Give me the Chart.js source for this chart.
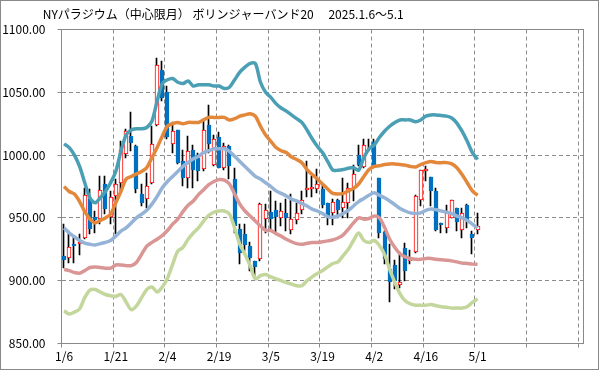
<!DOCTYPE html>
<html>
<head>
<meta charset="utf-8">
<script src="https://cdn.jsdelivr.net/npm/chart.js@4.4.1/dist/chart.umd.min.js"></script>
<style>
  html, body { margin: 0; padding: 0; background: #fff; }
  #box { position: absolute; left: 0; top: 0; width: 597px; height: 368px; border: 1px solid #898989; }
</style>
</head>
<body>
<div id="box"><canvas id="chart"></canvas></div>
<script>
const TITLE = 'NYパラジウム（中心限月） ボリンジャーバンド20　 2025.1.6～5.1';

const dates = [
  '1/6','1/7','1/8','1/9','1/10','1/13','1/14','1/15','1/16','1/17',
  '1/21','1/22','1/23','1/24','1/27','1/28','1/29','1/30','1/31','2/3',
  '2/4','2/5','2/6','2/7','2/10','2/11','2/12','2/13','2/14','2/18',
  '2/19','2/20','2/21','2/24','2/25','2/26','2/27','2/28','3/3','3/4',
  '3/5','3/6','3/7','3/10','3/11','3/12','3/13','3/14','3/17','3/18',
  '3/19','3/20','3/21','3/24','3/25','3/26','3/27','3/28','3/31','4/1',
  '4/2','4/3','4/4','4/7','4/8','4/9','4/10','4/11','4/14','4/15',
  '4/16','4/17','4/21','4/22','4/23','4/24','4/25','4/28','4/29','4/30',
  '5/1'
];

const open = [
  919.8, 918.4, 929.0, 929.0, 934.3, 965.3, 951.0, 949.4, 976.7, 951.0,
  967.4, 978.0, 1000.5, 1015.5, 1007.0, 969.0, 964.7, 977.5, 1024.3, 1067.4,
  1050.0, 1009.2, 1019.8, 995.2, 982.0, 1004.4, 997.8, 988.6, 1024.3, 992.5,
  1014.2, 989.9, 1007.6, 980.6, 941.5, 937.5, 927.7, 915.3, 917.1, 949.4,
  954.7, 956.0, 949.7, 953.6, 940.1, 948.1, 956.0, 971.9, 972.7, 972.7,
  973.2, 961.6, 954.2, 964.0, 957.6, 962.1, 974.0, 999.7, 990.7, 1007.0,
  1010.3, 982.0, 938.8, 909.7, 912.4, 896.5, 926.4, 915.3, 923.0, 964.0,
  987.2, 982.5, 971.4, 946.0, 942.3, 950.2, 958.1, 940.1, 960.3, 937.5,
  940.1
];
const high = [
  944.9, 939.6, 935.6, 937.5, 974.0, 973.2, 955.5, 983.3, 983.3, 971.4,
  980.6, 1011.0, 1021.0, 1034.6, 1008.0, 977.0, 986.0, 1023.0, 1077.7, 1074.6,
  1055.0, 1026.0, 1020.0, 1004.4, 1015.6, 1008.4, 1001.8, 1027.5, 1040.0, 1016.3,
  1018.2, 1009.7, 1008.0, 989.9, 945.4, 944.9, 930.9, 916.0, 962.0, 960.8,
  971.4, 963.4, 962.1, 964.7, 968.7, 962.1, 971.4, 995.7, 983.3, 988.6,
  976.7, 962.1, 964.7, 964.7, 982.0, 978.0, 992.5, 1008.4, 1012.9, 1012.9,
  1013.0, 982.0, 939.6, 929.0, 916.3, 923.0, 930.4, 924.3, 968.0, 988.0,
  991.2, 982.5, 974.0, 946.0, 960.0, 964.2, 958.1, 958.1, 961.3, 939.6,
  954.2
];
const low = [
  910.5, 914.0, 914.0, 920.6, 933.0, 937.0, 938.3, 945.0, 952.9, 945.0,
  937.0, 971.4, 998.0, 1003.0, 970.0, 959.5, 958.0, 977.0, 1023.0, 1042.8,
  1013.0, 1001.3, 993.0, 975.3, 974.0, 974.0, 979.3, 987.0, 1001.8, 991.2,
  989.4, 987.8, 980.6, 938.3, 913.2, 923.7, 907.9, 903.9, 915.8, 938.3,
  941.0, 938.3, 943.6, 939.6, 937.0, 944.9, 952.8, 966.9, 966.9, 970.0,
  958.1, 944.4, 944.4, 950.2, 950.2, 950.2, 963.4, 991.2, 989.9, 1003.0,
  990.0, 934.3, 913.2, 882.7, 893.3, 894.0, 900.0, 913.2, 922.4, 959.5,
  979.3, 959.5, 939.6, 938.3, 938.3, 950.2, 939.6, 934.3, 942.3, 921.6,
  937.0
];
const close = [
  916.3, 927.2, 927.5, 930.9, 967.9, 940.9, 948.0, 972.0, 956.8, 966.9,
  976.7, 1004.4, 1019.0, 1009.3, 972.7, 962.0, 975.3, 1009.0, 1071.9, 1045.5,
  1014.5, 1019.0, 993.9, 982.0, 1003.0, 988.0, 987.2, 1019.8, 1009.0, 1012.9,
  989.9, 1007.6, 991.2, 943.6, 922.4, 928.5, 918.4, 911.0, 960.8, 956.0,
  948.9, 951.0, 955.5, 949.7, 948.9, 953.6, 964.2, 974.0, 974.6, 976.7,
  960.0, 949.7, 962.6, 956.3, 962.6, 974.0, 984.6, 992.5, 1008.4, 1007.6,
  992.5, 938.3, 917.1, 898.6, 900.0, 898.6, 907.9, 916.6, 967.4, 988.0,
  989.0, 971.4, 940.4, 944.6, 953.6, 964.0, 947.0, 953.6, 947.6, 934.3,
  943.6
];

// ボリンジャーバンド (+2σ, +1σ, 中心, -1σ, -2σ)
const upper2 = [
  1009, 1006, 1000, 991, 978, 966, 962, 966, 971, 978,
  987, 1003, 1016, 1020, 1021, 1021, 1022, 1027, 1043, 1057,
  1060, 1061, 1058, 1057, 1059, 1055, 1056, 1056, 1056, 1055,
  1055, 1053, 1054, 1060, 1066, 1070, 1073, 1073, 1058, 1050,
  1046, 1041, 1037.5, 1035, 1032, 1029, 1026, 1020, 1013, 1007,
  1002, 995, 988, 988, 988.5, 989.5, 990, 988, 998, 1005,
  1008, 1014, 1019, 1023, 1026, 1028, 1028, 1028, 1026.5, 1028,
  1031, 1032, 1032, 1031.5, 1031, 1029.5, 1025.5, 1019, 1011, 1002,
  996.5
];
const upper1 = [
  975, 971, 969, 963, 955, 949, 946, 948, 950, 953,
  962, 971, 981, 983, 985, 987, 990, 998, 1006, 1015,
  1023, 1025, 1026, 1025, 1026, 1026, 1026, 1028, 1030, 1030,
  1030, 1030, 1028, 1029, 1031, 1032, 1033, 1031, 1023, 1016,
  1011, 1006, 1003.5, 1002, 998.5, 996.5, 994, 988.5, 984.5, 981,
  977, 973, 969.5, 969, 969.5, 971.5, 973.5, 977, 983, 988.5,
  991, 991.5, 992.5, 993, 993, 992.5, 992, 991, 990.5, 992.5,
  994, 995, 994, 994, 994, 993, 990, 984.5, 978, 971.5,
  968
];
const middle = [
  942, 938, 935, 932, 930, 929, 928.5, 929.5, 930.5, 932,
  935.5, 939.5, 942, 946, 950, 953, 956, 961, 967, 974,
  979, 983, 987, 991, 994, 997, 999, 1002, 1003.5, 1005,
  1005, 1005, 1003, 999, 995, 991, 987, 983, 981, 978,
  975, 971.5, 969.5, 967.5, 965, 963.5, 961.5, 959.5, 957, 955.5,
  953.5, 951, 950.5, 951.5, 953.5, 956, 959.5, 963, 965.5, 968,
  970, 968, 966, 963.5, 960.5, 957.5, 955.5, 954, 953.5, 954,
  956, 957, 956.5, 955.5, 954.5, 953.5, 951.5, 950, 948, 945,
  942
];
const lower1 = [
  909, 908, 906.5, 906, 908, 910.5, 911, 910.5, 910, 910,
  912.5, 912.5, 912, 912, 914.5, 921, 927.5, 930.5, 933, 936,
  940, 945, 949, 955, 960, 963.5, 968.5, 972.5, 976.5, 979,
  980.5, 980, 977, 969, 961, 955.5, 951.5, 947.5, 943.5, 940,
  940, 937.5, 935.5, 933, 931, 929.5, 929, 929.8, 930.4, 930.4,
  931, 931.7, 932.5, 934, 936.5, 941, 946, 950, 949, 949.5,
  951.5, 950, 942.5, 933, 926.5, 921.5, 919, 917.7, 917, 917,
  917.7, 917.7, 917, 916.6, 916.3, 915.8, 915, 914, 913.7, 913.2,
  913
];
const lower2 = [
  876, 873.5, 875, 877.5, 886.5, 892.5, 893, 891, 889, 888,
  887.5, 889, 883, 877, 880, 886.5, 893, 895, 891, 895,
  902, 913, 923.5, 926.5, 933, 938, 942, 947.5, 952, 954.5,
  955.5, 955.5, 953, 942, 929, 921, 912, 901.5, 904, 905,
  903, 901.5, 900, 898.5, 897.3, 896, 896, 900, 903, 905.7,
  908, 911, 913.7, 915, 920, 925, 932, 938, 932, 930.5,
  932, 928, 921, 909, 898.5, 889.5, 884, 881.5, 880.5, 880.5,
  880.5, 881, 880, 879.3, 878.8, 878.2, 878.2, 878.2, 879.3, 882.7,
  885.5
];

const yTicks = { min: 850, max: 1100, step: 50 };
const EMPTY_SLOTS = 20;

const labels = dates.concat(Array(EMPTY_SLOTS).fill(''));
const isUp = dates.map((d, i) => close[i] >= open[i]);
const wicks = dates.map((d, i) => [low[i], high[i]]);
const bodies = dates.map((d, i) => [open[i], close[i]]);

const FONT = '"Noto Sans CJK JP", "Noto Sans", sans-serif';
const GRID = '#8c8c8c';
const every10 = c => (c.index % 10 === 0 ? GRID : 'rgba(0,0,0,0)');

const bandLine = (data, color) => ({
  type: 'line',
  data: data,
  borderColor: color,
  borderWidth: 3.5,
  pointRadius: 0,
  tension: 0.3,
  fill: false,
  order: 1
});

const titlePlugin = {
  id: 'sheetTitle',
  afterDraw(chart) {
    const ctx = chart.ctx;
    ctx.save();
    ctx.font = '12px ' + FONT;
    ctx.fillStyle = '#000';
    ctx.textBaseline = 'middle';
    ctx.fillText(TITLE, 41.7, 13.5);
    ctx.restore();
  }
};

const framePlugin = {
  id: 'plotFrame',
  beforeDatasetsDraw(chart) {
    const { ctx, chartArea: a } = chart;
    ctx.save();
    ctx.strokeStyle = '#898989';
    ctx.lineWidth = 1;
    ctx.strokeRect(a.left, a.top, a.right - a.left, a.bottom - a.top);
    ctx.restore();
  }
};

// snap candle bars to whole pixels so wicks and bodies stay crisp
const snapPlugin = {
  id: 'snapCandles',
  afterDatasetsUpdate(chart) {
    chart.data.datasets.forEach((ds, di) => {
      if (ds.type !== 'bar') return;
      chart.getDatasetMeta(di).data.forEach(el => {
        el.x = Math.round(el.x) - (ds.barThickness === 1 ? 0.5 : 0);
        el.y = Math.round(el.y);
        el.base = Math.round(el.base);
      });
    });
  }
};

new Chart(document.getElementById('chart'), {
  type: 'bar',
  data: {
    labels: labels,
    datasets: [
      bandLine(upper2, '#4a9fb5'),
      bandLine(upper1, '#e3873b'),
      bandLine(middle, '#95b3d7'),
      bandLine(lower1, '#d99694'),
      bandLine(lower2, '#c3d69b'),
      {
        type: 'bar',
        data: bodies,
        backgroundColor: isUp.map(u => (u ? '#ffffff' : '#0070c0')),
        borderColor: isUp.map(u => (u ? '#ff0000' : '#0070c0')),
        borderWidth: 1,
        borderSkipped: false,
        barThickness: 4,
        grouped: false,
        order: 2
      },
      {
        type: 'bar',
        data: wicks,
        backgroundColor: '#000000',
        borderWidth: 0,
        barThickness: 1,
        grouped: false,
        order: 3
      }
    ]
  },
  options: {
    responsive: true,
    maintainAspectRatio: false,
    animation: false,
    layout: { padding: { top: 28.5, right: 14.5, left: 0, bottom: 0 } },
    plugins: {
      legend: { display: false },
      tooltip: { enabled: false },
      title: { display: false }
    },
    scales: {
      x: {
        offset: true,
        grid: { offset: true, color: every10, tickColor: every10, tickLength: 4 },
        border: { color: '#898989', dash: [4, 3] },
        ticks: {
          autoSkip: false,
          maxRotation: 0,
          minRotation: 0,
          padding: 2,
          color: '#000',
          font: { family: FONT, size: 12 },
          callback: function (v, i) { return i % 10 === 0 ? this.getLabelForValue(v) : ''; }
        },
        afterFit: s => { s.height = 25.5; }
      },
      y: {
        min: yTicks.min,
        max: yTicks.max,
        grid: { color: GRID, tickColor: GRID, tickLength: 4 },
        border: { color: '#898989', dash: [4, 3] },
        ticks: {
          stepSize: yTicks.step,
          padding: 12,
          color: '#000',
          font: { family: FONT, size: 12 },
          callback: v => v.toFixed(2)
        },
        afterFit: s => { s.width = 60.5; }
      }
    }
  },
  plugins: [framePlugin, snapPlugin, titlePlugin]
});
</script>
</body>
</html>
